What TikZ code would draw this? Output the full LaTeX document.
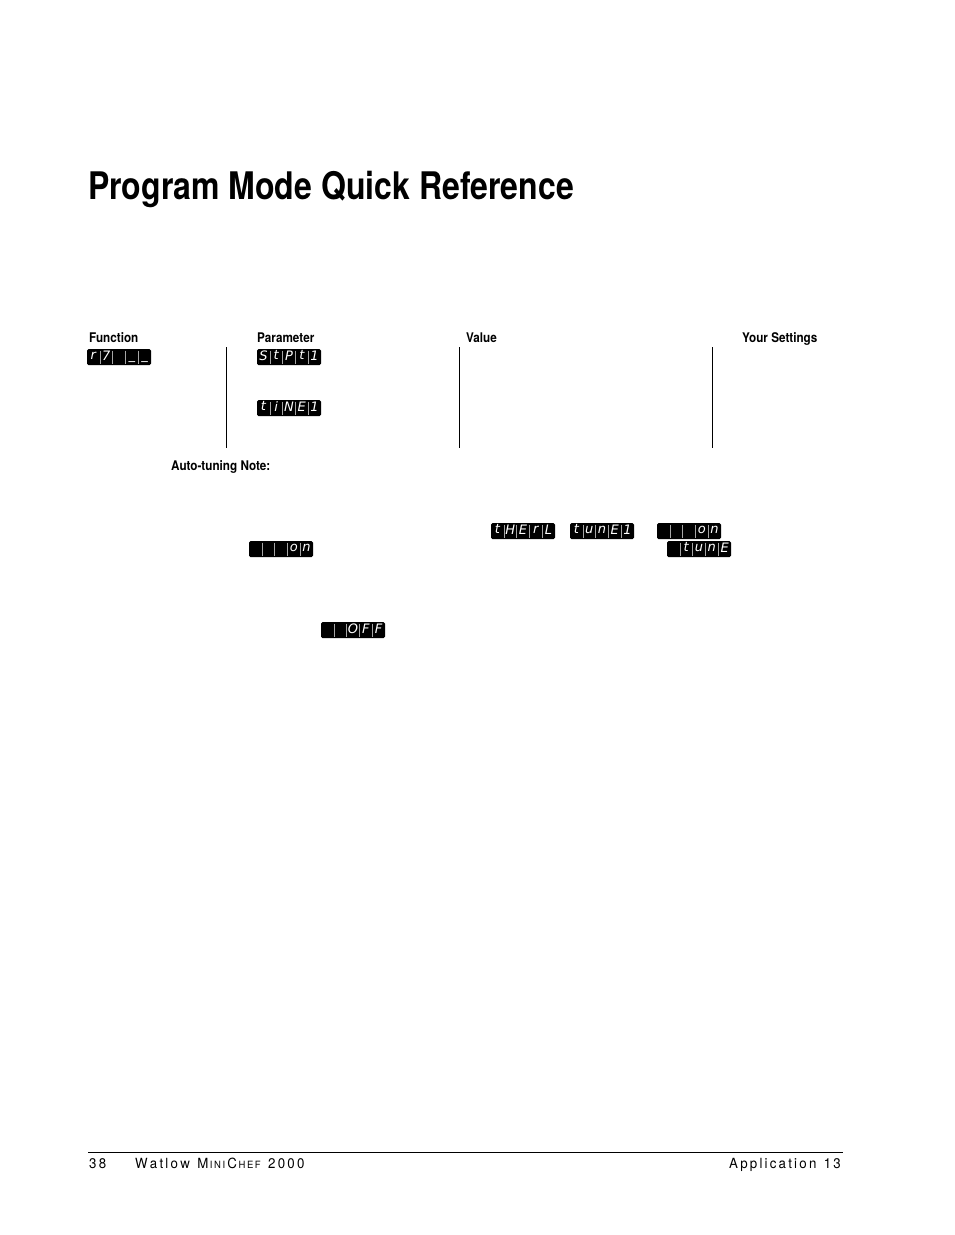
\documentclass[tikz,border=0pt]{standalone}
\usepackage{fontspec}
\setmainfont{TeX Gyre Heros}
\newfontfamily\lcdfont{DejaVu Sans}
\tikzset{hdr/.style={anchor=base west,font=\bfseries\fontsize{13.3}{14}\selectfont,xscale=0.88,inner sep=0},
 vline/.style={line width=0.8pt}}
\newcommand\lcd[6]{%
 \fill[black,rounded corners=1.5pt] (#2,#3) rectangle ++(64,16);
 \node[inner sep=0,minimum width=64,minimum height=16,anchor=north west] (#1) at (#2,#3) {};
 \foreach \t [count=\i] in {#4} {
   \pgfmathsetmacro\cx{#2+12.8*(\i-0.5)}
   \node[text=white,font=\lcdfont\itshape\fontsize{13}{13}\selectfont,inner sep=0] at (\cx,#3+8.3) {\strut\t};
 }
 \foreach \i in {1,...,4} { \draw[gray!70,line width=0.5pt] (#2+12.8*\i,#3+1.5) -- ++(0,13); }
}
\begin{document}
\begin{tikzpicture}[x=1pt,y=-1pt]
\useasboundingbox (0,0) rectangle (954,1235);
\node[anchor=base west,inner sep=0,font=\bfseries\fontsize{38}{40}\selectfont,xscale=0.842] (title) at (88,199) {Program Mode Quick Reference};
\node[hdr] (h1) at (89,342) {Function};
\node[hdr] (h2) at (257,342) {Parameter};
\node[hdr] (h3) at (466,342) {Value};
\node[hdr] (h4) at (742,342) {Your Settings};
\draw[vline] (226,347) -- (226,448);
\draw[vline] (459,347) -- (459,448);
\draw[vline] (712,347) -- (712,448);
\lcd{m7}{87}{349}{r,7,,\_,\_}{}{}
\lcd{stpt}{257}{349}{S,t,P,t,1}{}{}
\lcd{time}{257}{400}{t,i,N,E,1}{}{}
\node[hdr] (atn) at (171,470) {Auto-tuning Note:};
\lcd{therl}{491}{523}{t,H,E,r,L}{}{}
\lcd{tune1}{570}{523}{t,u,n,E,1}{}{}
\lcd{on1}{657}{523}{,,,o,n}{}{}
\lcd{on2}{249}{541}{,,,o,n}{}{}
\lcd{tune}{667}{541}{,t,u,n,E}{}{}
\lcd{off}{321}{622}{,,O,F,F}{}{}
\draw[line width=0.5pt] (88,1152) -- (843,1152);
\node[anchor=base west,inner sep=0,font=\fontsize{14}{16}\selectfont,xscale=0.95] (f1) at (89,1168) {3\,8};
\node[anchor=base west,inner sep=0,font=\fontsize{14}{16}\selectfont,xscale=0.95] (f1b) at (135,1168) {W\,a\,t\,l\,o\,w\ \ M{\fontsize{10}{12}\selectfont\,I\,N\,I}\,C{\fontsize{10}{12}\selectfont\,H\,E\,F}\ \ 2\,0\,0\,0};
\node[anchor=base east,inner sep=0,font=\fontsize{14}{16}\selectfont,xscale=0.95] (f2) at (841,1168) {A\,p\,p\,l\,i\,c\,a\,t\,i\,o\,n\ \ 1\,3};
\end{tikzpicture}
\end{document}
